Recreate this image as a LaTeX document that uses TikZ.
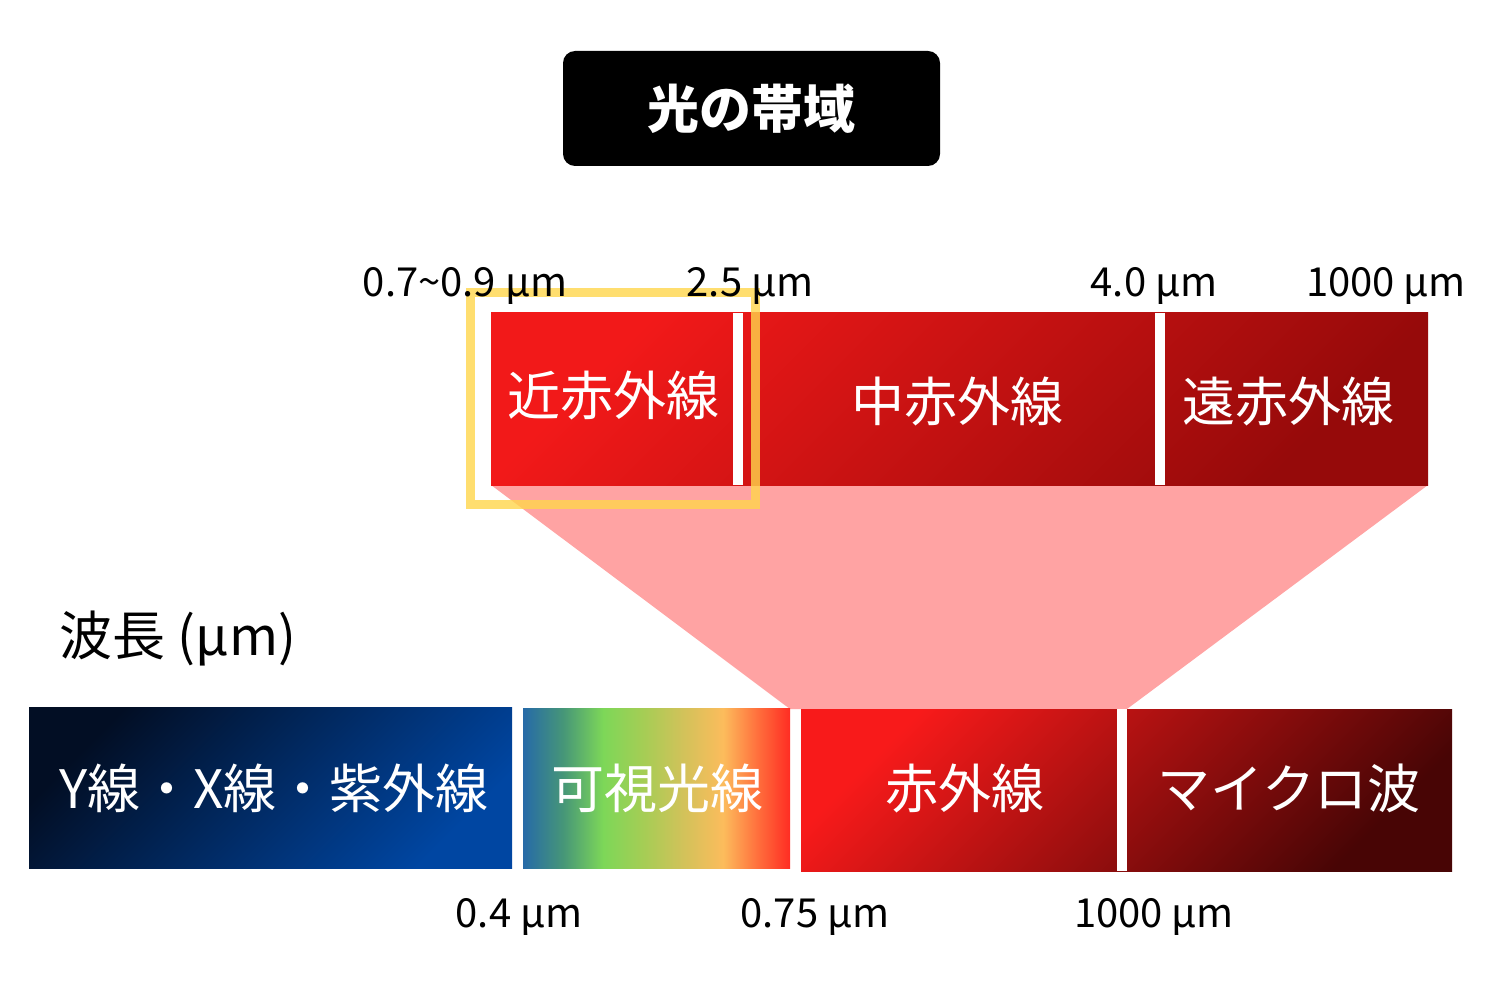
\documentclass[tikz,border=0pt]{standalone}
\usepackage{fontspec}
\setmainfont{Noto Sans CJK JP}
\definecolor{pinkc}{RGB}{255,163,163}
\definecolor{yel}{RGB}{255,214,76}
\definecolor{irA}{RGB}{242,25,25}
\definecolor{irB}{RGB}{150,10,10}
\definecolor{lwA}{RGB}{248,26,26}
\definecolor{lwB}{RGB}{72,5,5}
\definecolor{blA}{RGB}{2,14,36}
\definecolor{blB}{RGB}{0,70,162}
\definecolor{v0}{RGB}{38,106,168}
\definecolor{v1}{RGB}{70,150,120}
\definecolor{v2}{RGB}{125,215,88}
\definecolor{v3}{RGB}{165,205,85}
\definecolor{v4}{RGB}{210,194,90}
\definecolor{v5}{RGB}{252,188,92}
\definecolor{v6}{RGB}{255,110,60}
\definecolor{v7}{RGB}{255,45,35}
\pgfdeclarehorizontalshading{visiblespec}{100bp}{color(0bp)=(v0); color(25bp)=(v0); color(32.5bp)=(v1); color(40bp)=(v2); color(47.5bp)=(v3); color(55bp)=(v4); color(62.5bp)=(v5); color(69bp)=(v6); color(75bp)=(v7); color(100bp)=(v7)}
\tikzset{
  boxtxt/.style={text=white, font=\fontsize{53}{60}\selectfont, inner sep=0pt},
  lbl/.style={text=black, font=\fontsize{40}{46}\selectfont, inner sep=0pt, anchor=base},
  titlebox/.style={fill=black, rounded corners=12pt, minimum width=377pt, minimum height=115pt, text=white, font=\fontsize{52}{60}\selectfont\bfseries, inner sep=0pt},
  gap/.style={fill=white}
}
\begin{document}
\begin{tikzpicture}[x=1pt,y=-1pt]
\fill[white] (0,0) rectangle (1500,1000);
\path[use as bounding box] (0,0) rectangle (1500,1000);
% title
\node[titlebox] (title) at (751.5,108.5) {光の帯域};
% pink trapezoid
\fill[pinkc] (491,485) -- (1428,485) -- (1127,709) -- (790,709) -- cycle;
% top band
\shade[top color=irA, bottom color=irB, shading angle=45] (491,313) rectangle (1428,485);
\fill[gap] (733,313) rectangle (743,485);
\fill[gap] (1155,313) rectangle (1165,485);
% bottom boxes
\shade[top color=blA, bottom color=blB, shading angle=45] (29,707) rectangle (512,868);
\shade[shading=visiblespec] (523,708) rectangle (790,868);
\shade[top color=lwA, bottom color=lwB, shading angle=45] (801,709) rectangle (1452,871);
\fill[gap] (1117,709) rectangle (1127,871);
% yellow frame
\draw[yel, opacity=0.8, line width=9pt] (470,292.5) rectangle (755,504.5);
% box texts
\node[boxtxt] (nir) at (613,395) {近赤外線};
\node[boxtxt] (mir) at (957,401) {中赤外線};
\node[boxtxt] (fir) at (1288,401) {遠赤外線};
\node[boxtxt] (uv) at (274,788) {Y線・X線・紫外線};
\node[boxtxt] (vis) at (657,788) {可視光線};
\node[boxtxt] (ir) at (965,788) {赤外線};
\node[boxtxt] (mw) at (1289,788) {マイクロ波};
% labels
\node[lbl] (l1) at (465,297) {0.7{\char"007E}0.9 µm};
\node[lbl] (l2) at (750,297) {2.5 µm};
\node[lbl] (l3) at (1154,297) {4.0 µm};
\node[lbl] (l4) at (1386,297) {1000 µm};
\node[lbl] (b1) at (519,927) {0.4 µm};
\node[lbl] (b2) at (815,927) {0.75 µm};
\node[lbl] (b3) at (1154,927) {1000 µm};
\node[text=black, font=\fontsize{53}{60}\selectfont, inner sep=0pt] (wl) at (178,639) {波長 (µm)};
\end{tikzpicture}
\end{document}
